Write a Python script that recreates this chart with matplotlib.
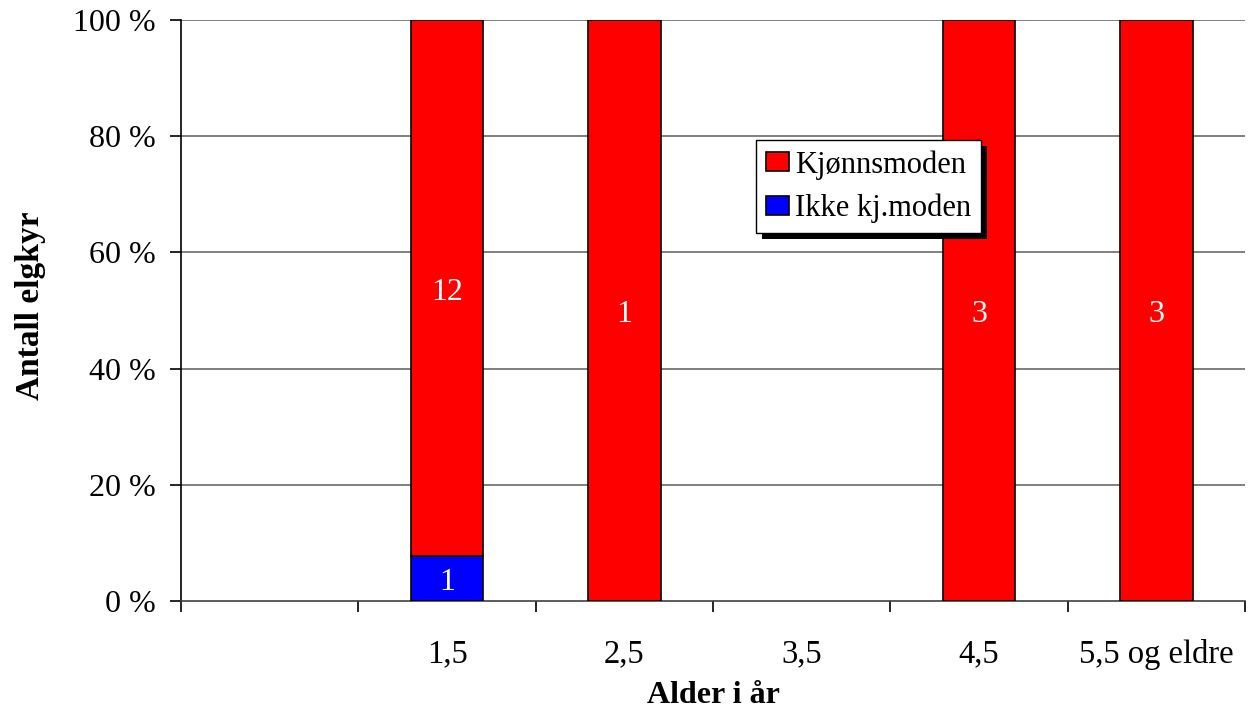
import numpy as np
import matplotlib
matplotlib.use("Agg")
import matplotlib.pyplot as plt
from matplotlib.patches import Rectangle

plt.rcParams['font.family'] = ['Liberation Serif', 'DejaVu Serif']

# data
kategorier = ["", "1,5", "2,5", "3,5", "4,5", "5,5 og eldre"]
kjonnsmoden = [0, 12, 1, 0, 3, 3]
ikke_moden = [0, 1, 0, 0, 0, 0]

tot = np.array(kjonnsmoden) + np.array(ikke_moden)
tot_safe = np.where(tot == 0, 1, tot)
pct_ikke = np.array(ikke_moden) / tot_safe * 100
pct_kjonn = np.array(kjonnsmoden) / tot_safe * 100

fig = plt.figure(figsize=(12.5, 7.13), dpi=100)
ax = fig.add_axes([0.1448, 0.157, 0.8512, 0.815])

x = np.arange(len(kategorier))
w = 0.41
# tomme kategorier tegnes ikke
h_ikke = np.where(pct_ikke > 0, pct_ikke, np.nan)
h_kjonn = np.where(pct_kjonn > 0, pct_kjonn, np.nan)
b1 = ax.bar(x, h_ikke, w, color='#0000ff', edgecolor='black', linewidth=1.2,
            label='Ikke kj.moden', zorder=3)
b2 = ax.bar(x, h_kjonn, w, bottom=pct_ikke, color='#ff0000', edgecolor='black',
            linewidth=1.2, label='Kjønnsmoden', zorder=3)

for i in range(len(x)):
    if ikke_moden[i] > 0:
        ax.annotate(str(ikke_moden[i]), (x[i], pct_ikke[i] / 2), xytext=(0, -3),
                    textcoords='offset points', ha='center', va='center',
                    color='white', fontsize=23, zorder=4)
    if kjonnsmoden[i] > 0:
        ax.annotate(str(kjonnsmoden[i]), (x[i], pct_ikke[i] + pct_kjonn[i] / 2),
                    xytext=(0, -3), textcoords='offset points', ha='center',
                    va='center', color='white', fontsize=23, zorder=4)

ax.set_xlim(-0.5, len(kategorier) - 0.5)
ax.set_ylim(0, 100)
ax.set_yticks(np.arange(0, 101, 20))
ax.set_yticklabels([f"{v} %" for v in range(0, 101, 20)])
ax.set_xticks(x)
ax.set_xticklabels(kategorier)
ax.set_xticks(np.arange(-0.5, len(kategorier), 1), minor=True)
ax.tick_params(axis='x', which='major', length=0, pad=27, labelsize=23.5)
ax.tick_params(axis='x', which='minor', length=8, width=1.2, direction='out')
ax.tick_params(axis='y', length=8, width=1.2, pad=10, labelsize=23)

for v in range(20, 101, 20):
    ax.axhline(v, color='#6a6a6a', lw=1.2, zorder=1)

for s in ['top', 'right']:
    ax.spines[s].set_visible(False)
ax.spines['left'].set_linewidth(1.2)
ax.spines['bottom'].set_linewidth(1.2)
ax.spines['bottom'].set_color('#404040')

ax.set_xlabel("Alder i år", fontsize=23, fontweight='bold', labelpad=8)
ax.set_ylabel("Antall elgkyr", fontsize=24, fontweight='bold')
ax.yaxis.set_label_coords(-0.127, 0.509)

leg = ax.legend(handles=[b2, b1], loc='upper left', bbox_to_anchor=(0.540, 0.7935),
                fontsize=22, frameon=True, fancybox=False, edgecolor='black',
                framealpha=1, handlelength=0.75, handleheight=0.6, handletextpad=0.2,
                borderpad=0.33, labelspacing=0.47, borderaxespad=0)
leg.get_frame().set_linewidth(1.0)
leg.set_zorder(6)

fig.canvas.draw()
bb = leg.get_window_extent()
sh = Rectangle((bb.x0 + 6, bb.y0 - 6), bb.width, bb.height, transform=None,
               facecolor='black', edgecolor='none', zorder=5)
ax.add_artist(sh)

fig.savefig("out.png", dpi=100)
